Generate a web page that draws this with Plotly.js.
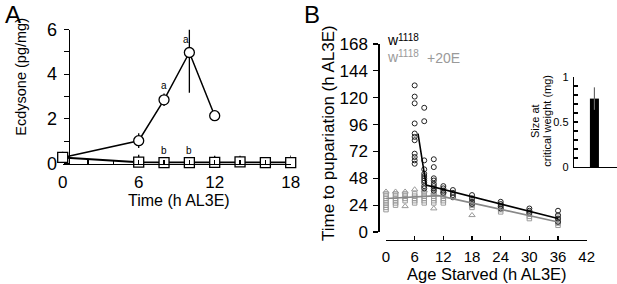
<!DOCTYPE html>
<html><head><meta charset="utf-8">
<script src="https://cdn.plot.ly/plotly-3.0.1.min.js"></script>
<style>html,body{margin:0;padding:0;background:#fff}#chart{width:617px;height:284px}</style>
</head><body><div id="chart"></div>
<script>
// ---------- Panel A: ecdysone titre ----------
const timeFed = [0, 6, 8, 10, 12];
const ecdFed = [0.27, 1.02, 2.85, 4.97, 2.14];
const ecdFedErrUp = [0.1, 0.33, 0.28, 1.03, 0];
const ecdFedErrDn = [0.1, 0.33, 0.28, 1.8, 0];
const timeStarved = [0, 6, 8, 10, 12, 14, 16, 18];
const ecdStarved = [0.27, 0.06, 0.04, 0.04, 0.05, 0.07, 0.04, 0.04];
const ecdStarvedErr = [0.1, 0.33, 0.15, 0.15, 0.3, 0.28, 0.15, 0.32];
const criticalWeightTime = [8.8];
const criticalWeightMarkY = [-0.3];
const letterX = [8, 9.75, 8, 10];
const letterY = [3.5, 5.55, 0.6, 0.6];
const letterText = ['a', 'a', 'b', 'b'];
const tickA_x = [0, 6, 12, 18];
const tickA_y = [0, 2, 4, 6];

// ---------- Panel B: time to pupariation ----------
const ageW = [6, 8, 10, 12, 14, 18, 24, 30, 36];
const pupW = [
  [131, 121, 115, 97, 88, 85, 82, 70, 67, 64, 61],
  [111, 99, 64, 56, 52, 50, 48, 46, 44, 41, 39],
  [65, 58, 48, 46, 43, 41, 39, 37],
  [41, 39, 37, 35],
  [37.5, 35, 33, 31],
  [33, 30, 27, 25],
  [27, 25, 23, 21],
  [21, 19, 17],
  [19, 15, 12, 9]
];
const ageE_sq = [0, 2, 4, 6, 8, 10, 12, 18, 24, 30, 36];
const pupE_sq = [
  [34, 32, 30, 28, 26, 24, 22, 20],
  [34, 32, 30, 28, 26, 24],
  [34, 32, 30, 28],
  [34, 32, 30, 28, 26],
  [36, 34, 32, 30, 28, 26],
  [36, 34, 32, 30, 28, 26],
  [34, 32, 30, 28, 26],
  [30, 28, 26, 24, 22],
  [24, 22, 20, 18],
  [18, 16, 14, 12],
  [14, 12, 10, 8, 6]
];
const ageE_tri = [0, 2, 4, 4, 6, 8, 10, 10, 12, 18];
const pupE_tri = [36, 36, 36, 23, 38, 37, 35, 21, 36, 15];
const fitW_x = [6.7, 8.4, 36];
const fitW_y = [88, 42, 12];
const fitE_x = [0, 11, 36];
const fitE_y = [30, 32.5, 9];
const tickB_x = [0, 6, 12, 18, 24, 30, 36, 42];
const tickB_y = [0, 24, 48, 72, 96, 120, 144, 168];

// ---------- Inset: size at critical weight ----------
const cwGenotype = ['w1118'];
const cwSize = [0.76];
const cwErr = [0.125];
const tickInset = [0, 0.5, 1];

function flat(xs, yss) {
  const X = [], Y = [];
  xs.forEach((x, i) => yss[i].forEach(v => { X.push(x); Y.push(v); }));
  return [X, Y];
}
const [wX, wY] = flat(ageW, pupW);
const [eX, eY] = flat(ageE_sq, pupE_sq);

const F = 'Liberation Sans, Arial, Helvetica, sans-serif';
const W = 617, H = 284;
const px = v => v / W, py = v => 1 - v / H;
const GRAY = '#9a9a9a';

const traces = [
  // Panel A
  {x: timeFed, y: ecdFed, xaxis: 'x', yaxis: 'y', mode: 'lines+markers', cliponaxis: false,
   line: {color: 'black', width: 1.5},
   marker: {symbol: 'circle', size: 10, color: 'white', line: {color: 'black', width: 1.3}},
   error_y: {type: 'data', symmetric: false, array: ecdFedErrUp, arrayminus: ecdFedErrDn, color: 'black', thickness: 1.3, width: 0}},
  {x: timeStarved, y: ecdStarved, xaxis: 'x', yaxis: 'y', mode: 'lines+markers', cliponaxis: false,
   line: {color: 'black', width: 2},
   marker: {symbol: 'square', size: 10, color: 'white', line: {color: 'black', width: 1.3}},
   error_y: {type: 'data', array: ecdStarvedErr, color: 'black', thickness: 1.3, width: 0}},
  {x: criticalWeightTime, y: criticalWeightMarkY, xaxis: 'x', yaxis: 'y', mode: 'markers', cliponaxis: false,
   marker: {symbol: 'triangle-up', size: 8, color: 'black'}},
  // Panel B
  {x: eX, y: eY, xaxis: 'x2', yaxis: 'y2', mode: 'markers', cliponaxis: false,
   marker: {symbol: 'square-open', size: 4.5, color: GRAY, line: {width: 1}}},
  {x: ageE_tri, y: pupE_tri, xaxis: 'x2', yaxis: 'y2', mode: 'markers', cliponaxis: false,
   marker: {symbol: 'triangle-up-open', size: 5.5, color: GRAY, line: {width: 1}}},
  {x: wX, y: wY, xaxis: 'x2', yaxis: 'y2', mode: 'markers', cliponaxis: false,
   marker: {symbol: 'circle-open', size: 5, color: '#222', line: {width: 1}}},
  {x: fitE_x, y: fitE_y, xaxis: 'x2', yaxis: 'y2', mode: 'lines', line: {color: '#888', width: 1.6}},
  {x: fitW_x, y: fitW_y, xaxis: 'x2', yaxis: 'y2', mode: 'lines', line: {color: 'black', width: 1.6}},
  // Inset
  {x: cwGenotype, y: cwSize, xaxis: 'x3', yaxis: 'y3', type: 'bar', width: 0.42,
   marker: {color: 'black', line: {width: 0}},
   error_y: {type: 'data', array: cwErr, color: '#666', thickness: 1.2, width: 0}}
];

const axCommon = {showgrid: false, zeroline: false, showline: true, linecolor: 'black', linewidth: 1.3,
  tickcolor: 'black', tickwidth: 1.2, fixedrange: true};
const minorTicks = (dtick, ticks, len) => ({dtick: dtick, tick0: 0, ticks: ticks, ticklen: len,
  tickcolor: 'black', tickwidth: 1.2, showgrid: false});

const paperAnn = [
  {text: 'A', x: px(13), y: py(14.5), font: {size: 24}},
  {text: 'B', x: px(312), y: py(14.5), font: {size: 24}},
  {text: 'Ecdysone (pg/mg)', x: px(20.7), y: py(77), textangle: -90, font: {size: 14.5}},
  {text: 'Time (h AL3E)', x: px(179), y: py(200.5), font: {size: 16}},
  {text: 'Age Starved (h AL3E)', x: px(487), y: py(273.5), font: {size: 16.5}},
  {text: 'Time to pupariation (h AL3E)', x: px(329), y: py(133), textangle: -90, font: {size: 17}},
  // legend: w^1118 and w^1118 +20E
  {text: 'w', x: px(385), y: py(40), xanchor: 'left', font: {size: 14, color: 'black'}},
  {text: '1118', x: px(395.5), y: py(37.5), xanchor: 'left', font: {size: 10, color: 'black'}},
  {text: 'w', x: px(385), y: py(57), xanchor: 'left', font: {size: 14, color: GRAY}},
  {text: '1118', x: px(395.5), y: py(53.5), xanchor: 'left', font: {size: 10, color: GRAY}},
  {text: '+20E', x: px(425), y: py(58), xanchor: 'left', font: {size: 14, color: GRAY}},
  {text: 'Size at', x: px(535), y: py(121), textangle: -90, font: {size: 11}},
  {text: 'critical weight (mg)', x: px(546.7), y: py(121), textangle: -90, font: {size: 11}}
].map(a => Object.assign({xref: 'paper', yref: 'paper', showarrow: false, xanchor: 'center', yanchor: 'middle'}, a));

const letterAnn = letterText.map((t, i) => ({text: t, x: letterX[i], y: letterY[i], xref: 'x', yref: 'y',
  showarrow: false, xanchor: 'center', yanchor: 'middle', font: {size: 10, color: 'black'}}));

const layout = {
  width: W, height: H, margin: {l: 0, r: 0, t: 0, b: 0},
  paper_bgcolor: 'white', plot_bgcolor: 'rgba(0,0,0,0)', showlegend: false,
  font: {family: F, color: 'black', size: 16},
  xaxis: Object.assign({}, axCommon, {domain: [px(62.7), px(290.7)], range: [0, 18], anchor: 'y',
    tickmode: 'array', tickvals: tickA_x, ticks: 'inside', ticklen: 4,
    minor: minorTicks(2, 'inside', 4), tickfont: {size: 17}, ticklabelstandoff: 3}),
  yaxis: Object.assign({}, axCommon, {domain: [py(163.5), py(29.5)], range: [0, 6], anchor: 'free', position: px(68.5),
    tickmode: 'array', tickvals: tickA_y, ticks: 'outside', ticklen: 5,
    minor: minorTicks(1, 'outside', 5), tickfont: {size: 18}, ticklabelstandoff: 3}),
  xaxis2: Object.assign({}, axCommon, {domain: [px(386), px(586.7)], range: [0, 42], anchor: 'free', position: py(240),
    tickmode: 'array', tickvals: tickB_x, ticks: 'inside', ticklen: 4, tickfont: {size: 15}, ticklabelstandoff: 3}),
  yaxis2: Object.assign({}, axCommon, {domain: [py(232), py(44)], range: [0, 168], anchor: 'free', position: px(378.3),
    tickmode: 'array', tickvals: tickB_y, ticks: 'outside', ticklen: 5, tickfont: {size: 17}, ticklabelstandoff: 2}),
  xaxis3: Object.assign({}, axCommon, {domain: [px(574), 1], type: 'category', range: [-0.95, 1.05], anchor: 'y3',
    ticks: '', showticklabels: false}),
  yaxis3: Object.assign({}, axCommon, {domain: [py(167), py(77)], range: [0, 1], anchor: 'x3',
    tickmode: 'array', tickvals: tickInset, ticks: 'inside', ticklen: 4,
    minor: minorTicks(0.1, 'inside', 4), tickfont: {size: 11}, ticklabelstandoff: 2}),
  annotations: paperAnn.concat(letterAnn)
};

Plotly.newPlot('chart', traces, layout, {staticPlot: true, displayModeBar: false});
</script>
</body></html>
